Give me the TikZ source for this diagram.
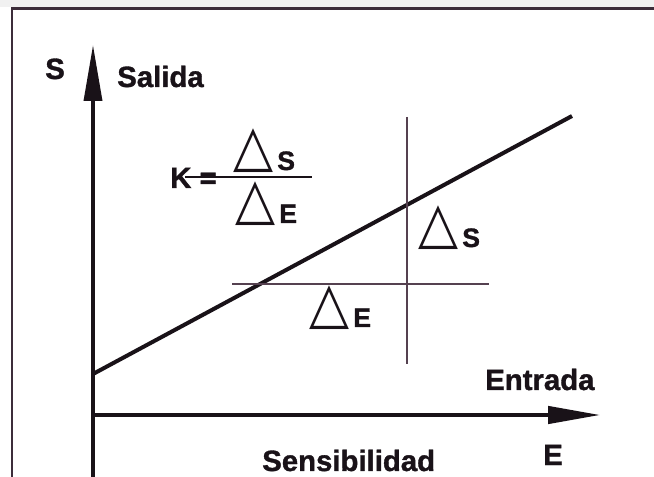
\documentclass[tikz,border=0pt]{standalone}
\usepackage{fontspec}
\setmainfont{Liberation Sans}[BoldFeatures={FakeBold=1.2}]
\newfontfamily\symf{DejaVu Sans}
\usetikzlibrary{arrows.meta}
\definecolor{ink}{RGB}{25,18,24}
\definecolor{thinc}{RGB}{85,65,80}
\definecolor{framec}{RGB}{60,45,58}
\definecolor{strip}{RGB}{241,241,241}
\newcommand\tri{\raisebox{3.4pt}{\scalebox{1}[1.1]{\symf\fontsize{39}{39}\selectfont △}}\kern3pt}
\begin{document}
\begin{tikzpicture}[x=0.75pt,y=-0.75pt,
  lbl/.style={inner sep=0pt,anchor=base west,text=ink,font=\bfseries\fontsize{22}{22}\selectfont},
  dlt/.style={inner sep=0pt,anchor=base west,text=ink,font=\bfseries\fontsize{20}{20}\selectfont},
  axis/.style={draw=ink,line width=2.6pt},
  curve/.style={draw=ink,line width=3pt},
  guide/.style={draw=thinc,line width=1.1pt},
  framel/.style={draw=framec,line width=1.6pt}]
\useasboundingbox (0,0) rectangle (654,477);
\fill[white] (0,0) rectangle (654,477);
\fill[strip] (0,0) rectangle (654,7);
% frame
\coordinate (ftl) at (12,8.5);
\coordinate (ftr) at (654,8.5);
\coordinate (fbl) at (12,477);
\draw[framel] (fbl) -- (ftl) -- (ftr);
% axes
\coordinate (O) at (93,415);
\coordinate (ytop) at (93,45);
\coordinate (ybot) at (93,477);
\coordinate (xend) at (600,415);
\draw[axis,-{Triangle[length=42pt,width=13.5pt]}] (ybot) -- (ytop);
\draw[axis,-{Triangle[length=39pt,width=13pt]}] (O) -- (xend);
% sensitivity line
\coordinate (l0) at (93,374);
\coordinate (l1) at (572,116);
\draw[curve] (l0) -- (l1);
% guides
\coordinate (v0) at (407,117);
\coordinate (v1) at (407,364);
\coordinate (h0) at (232,284);
\coordinate (h1) at (489,284);
\draw[guide] (v0) -- (v1);
\draw[guide] (h0) -- (h1);
% labels
\node[lbl] (S) at (45,79) {S};
\node[lbl] (sal) at (117,87) {Salida};
\node[lbl] (ent) at (485,390) {Entrada};
\node[lbl] (E) at (543,465) {E};
\node[lbl] (sen) at (262,471) {Sensibilidad};
% formula
\node[lbl] (K) at (170,188) {K =};
\coordinate (fb0) at (185,177);
\coordinate (fb1) at (227,177);
\coordinate (fb2) at (312,177);
\draw[draw=ink,line width=0.8pt] (fb0) -- (fb1);
\draw[draw=ink,line width=2.2pt] (fb1) -- (fb2);
\node[dlt] (num) at (233,170) {\tri S};
\node[dlt] (den) at (235,223) {\tri E};
\node[dlt] (dS) at (418,247) {\tri S};
\node[dlt] (dE) at (309,327) {\tri E};
\end{tikzpicture}
\end{document}
